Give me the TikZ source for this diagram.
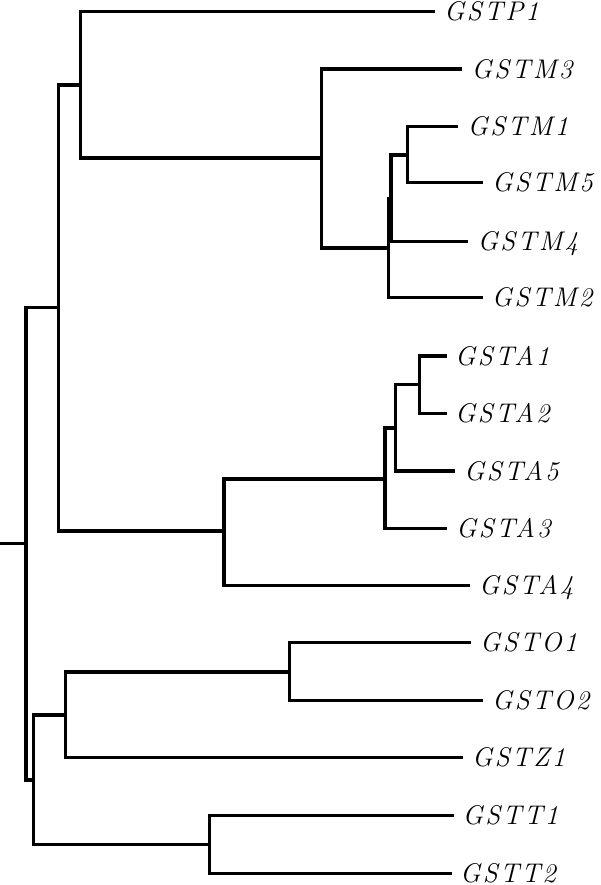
\documentclass[tikz,border=0pt]{standalone}
\usepackage{fontspec}
\setmainfont{Latin Modern Roman}
\begin{document}
\begin{tikzpicture}[x=1pt,y=-1pt,
  branch/.style={line width=3.4pt,line join=miter,line cap=butt,black},
  leaf/.style={anchor=base west,inner sep=0pt,font=\fontsize{27}{30}\selectfont\itshape\addfontfeatures{LetterSpace=8.5}}]
\useasboundingbox (0,0) rectangle (600,885);
% internal nodes
\coordinate (stub) at (0,543.5);
\coordinate (R)    at (26,543.5);
\coordinate (N1)   at (58.3,307.7);
\coordinate (N2)   at (80.7,85);
\coordinate (NM)   at (321.7,158);
\coordinate (NM2)  at (388.5,248);
\coordinate (NM4)  at (391,198.3);
\coordinate (NM15) at (407.7,155);
\coordinate (NA)   at (224,531);
\coordinate (NA3)  at (385,479);
\coordinate (NA5)  at (395.7,428);
\coordinate (NA12) at (419.3,384.5);
\coordinate (NL)   at (33.3,780);
\coordinate (NOZ)  at (65.7,715);
\coordinate (NO)   at (289.3,671.8);
\coordinate (NT)   at (209.3,844.5);
% leaf ends
\coordinate (tP1) at (435,11.5);
\coordinate (tM3) at (462.3,69);
\coordinate (tM1) at (458.3,126.7);
\coordinate (tM5) at (482.7,182.7);
\coordinate (tM4) at (468.3,241.7);
\coordinate (tM2) at (482.7,297.3);
\coordinate (tA1) at (446.7,356);
\coordinate (tA2) at (446.7,413.3);
\coordinate (tA5) at (455,471);
\coordinate (tA3) at (446.7,528.3);
\coordinate (tA4) at (470,585.5);
\coordinate (tO1) at (470.7,642.3);
\coordinate (tO2) at (482.7,700.7);
\coordinate (tZ1) at (463.3,757.7);
\coordinate (tT1) at (454,815.7);
\coordinate (tT2) at (451.7,873.3);
% labels
\node[leaf] (lP1) at (444,20.7)  {GSTP1};
\node[leaf] (lM3) at (471.5,78.2) {GSTM3};
\node[leaf] (lM1) at (467.5,135.9) {GSTM1};
\node[leaf] (lM5) at (492,191.9) {GSTM5};
\node[leaf] (lM4) at (477.5,250.9) {GSTM4};
\node[leaf] (lM2) at (491.7,306.5) {GSTM2};
\node[leaf] (lA1) at (455,365.2) {GSTA1};
\node[leaf] (lA2) at (455,422.5) {GSTA2};
\node[leaf] (lA5) at (464,480.2) {GSTA5};
\node[leaf] (lA3) at (456,537.5) {GSTA3};
\node[leaf] (lA4) at (479,594.7) {GSTA4};
\node[leaf] (lO1) at (480,651.5) {GSTO1};
\node[leaf] (lO2) at (492,709.9) {GSTO2};
\node[leaf] (lZ1) at (472,766.9) {GSTZ1};
\node[leaf] (lT1) at (462.5,824.9) {GSTT1};
\node[leaf] (lT2) at (460,882.5) {GSTT2};
% branches
\draw[branch] (stub) -- (R);
\draw[branch] (R) |- (N1);
\draw[branch] (R) |- (NL);
\draw[branch] (N1) |- (N2);
\draw[branch] (N1) |- (NA);
\draw[branch] (N2) |- (tP1);
\draw[branch] (N2) |- (NM);
\draw[branch] (NM) |- (tM3);
\draw[branch] (NM) |- (NM2);
\draw[branch] (NM2) |- (NM4);
\draw[branch] (NM2) |- (tM2);
\draw[branch] (NM4) |- (NM15);
\draw[branch] (NM4) |- (tM4);
\draw[branch] (NM15) |- (tM1);
\draw[branch] (NM15) |- (tM5);
\draw[branch] (NA) |- (NA3);
\draw[branch] (NA) |- (tA4);
\draw[branch] (NA3) |- (NA5);
\draw[branch] (NA3) |- (tA3);
\draw[branch] (NA5) |- (NA12);
\draw[branch] (NA5) |- (tA5);
\draw[branch] (NA12) |- (tA1);
\draw[branch] (NA12) |- (tA2);
\draw[branch] (NL) |- (NOZ);
\draw[branch] (NL) |- (NT);
\draw[branch] (NOZ) |- (NO);
\draw[branch] (NOZ) |- (tZ1);
\draw[branch] (NO) |- (tO1);
\draw[branch] (NO) |- (tO2);
\draw[branch] (NT) |- (tT1);
\draw[branch] (NT) |- (tT2);
\end{tikzpicture}
\end{document}
